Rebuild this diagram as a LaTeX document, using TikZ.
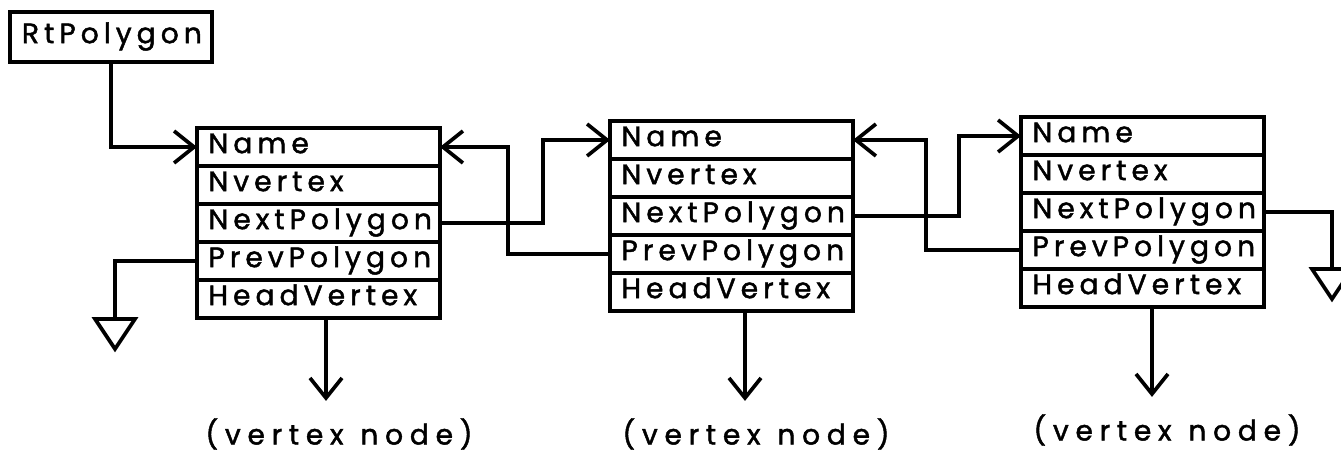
\documentclass[tikz,border=0pt]{standalone}
\usepackage{fontspec}
\setmainfont{Poppins}[LetterSpace=18, FakeBold=1.6]
\usetikzlibrary{positioning,arrows.meta}

\tikzset{
  field/.style={draw, line width=2.1pt, outer sep=0pt, minimum height=0.76cm,
    text width=4.4cm, inner xsep=0.23cm, inner ysep=0pt, align=left,
    text height=11pt, text depth=4pt, font=\fontsize{16}{18}\selectfont},
  rootbox/.style={field, minimum height=1cm, text width=3.56cm, inner xsep=0.24cm},
  ptr/.style={line width=2.1pt, -{Straight Barb[length=0.4cm,width=0.64cm]}},
  wire/.style={line width=2.1pt},
  lbl/.style={font=\fontsize{16}{18}\selectfont\addfontfeatures{LetterSpace=24}, inner sep=0pt}
}

\begin{document}
\begin{tikzpicture}[x=0.02cm, y=-0.02cm]
\useasboundingbox (0,0) rectangle (1341,459);

\node[rootbox] (rt) at (111,37) {RtPolygon};

% first polygon
\node[field] (name1) at (318.5,147) {Name};
\node[field, below=0pt of name1] (nvert1) {Nvertex};
\node[field, below=0pt of nvert1] (next1) {NextPolygon};
\node[field, below=0pt of next1] (prev1) {PrevPolygon};
\node[field, below=0pt of prev1] (head1) {HeadVertex};

% second polygon
\node[field] (name2) at (731.5,140) {Name};
\node[field, below=0pt of name2] (nvert2) {Nvertex};
\node[field, below=0pt of nvert2] (next2) {NextPolygon};
\node[field, below=0pt of next2] (prev2) {PrevPolygon};
\node[field, below=0pt of prev2] (head2) {HeadVertex};

% third polygon
\node[field] (name3) at (1142.5,136) {Name};
\node[field, below=0pt of name3] (nvert3) {Nvertex};
\node[field, below=0pt of nvert3] (next3) {NextPolygon};
\node[field, below=0pt of next3] (prev3) {PrevPolygon};
\node[field, below=0pt of prev3] (head3) {HeadVertex};

\node[lbl] (vn1) at (339,434) {(vertex\hspace{0.6em}node)};
\node[lbl] (vn2) at (756,434) {(vertex\hspace{0.6em}node)};
\node[lbl] (vn3) at (1167,430) {(vertex\hspace{0.6em}node)};

\draw[ptr] (rt.south) |- (name1.west);
\draw[ptr] (next1.east) -- ++(103,0) |- (name2.west);
\draw[ptr] (prev2.west) -- ++(-102,0) |- (name1.east);
\draw[ptr] (next2.east) -- ++(106,0) |- (name3.west);
\draw[ptr] (prev3.west) -- ++(-95,0) |- (name2.east);

% nil pointers
\draw[wire] (prev1.west) -- ++(-82,0) -- ++(0,58) coordinate (gnd1);
\draw[wire] (gnd1) ++(-20,0) -- ++(40,0) -- ++(-20,30) -- cycle;
\draw[wire] (next3.east) -- ++(68,0) -- ++(0,57) coordinate (gnd2);
\draw[wire] (gnd2) ++(-20,0) -- ++(40,0) -- ++(-20,30) -- cycle;

\draw[ptr, shorten >=0.34cm] ([xshift=0.15cm]head1.south) -- ([xshift=0.15cm]head1.south |- vn1.north);
\draw[ptr, shorten >=0.34cm] ([xshift=0.27cm]head2.south) -- ([xshift=0.27cm]head2.south |- vn2.north);
\draw[ptr, shorten >=0.34cm] ([xshift=0.19cm]head3.south) -- ([xshift=0.19cm]head3.south |- vn3.north);
\end{tikzpicture}
\end{document}
